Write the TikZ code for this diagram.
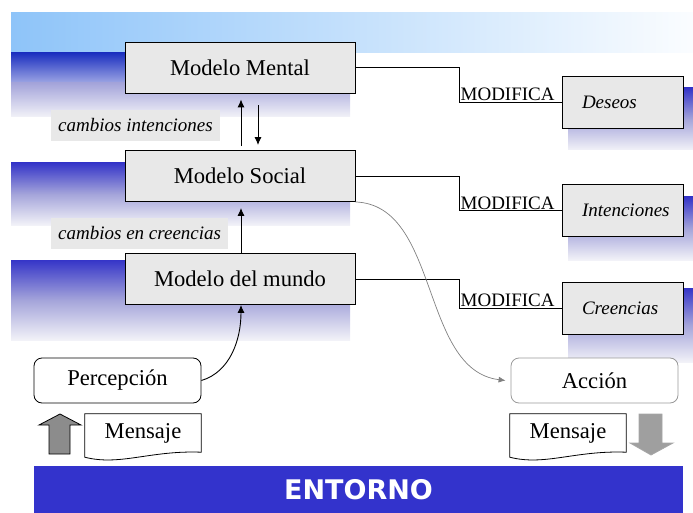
\documentclass[tikz,border=0pt]{standalone}
\usepackage{fontspec}
\setmainfont{Liberation Serif}
\newfontfamily\barfont{DejaVu Sans}
\usetikzlibrary{arrows.meta,positioning}
\definecolor{boxgray}{HTML}{E8E8E8}
\definecolor{bandblue}{HTML}{3535C8}
\definecolor{bandmid}{HTML}{A4A4DA}
\definecolor{bandpale}{HTML}{F2F2F8}
\definecolor{skyblue}{HTML}{8EC4F9}
\definecolor{deepblue}{HTML}{1C30C0}
\definecolor{barblue}{HTML}{3333CC}
\definecolor{arrowgray}{HTML}{8C8C8C}
\tikzset{
  modelbox/.style = {draw=black, fill=boxgray, line width=0.9pt, minimum width=230pt, minimum height=51pt, inner sep=0pt, font=\fontsize{22.6}{25}\selectfont},
  attrbox/.style = {draw=black, fill=boxgray, line width=0.9pt, minimum height=52pt, inner xsep=20pt, inner ysep=0pt, font=\fontsize{19}{22}\selectfont\itshape},
  notebox/.style = {fill=boxgray, anchor=west, minimum height=31pt, inner xsep=7pt, inner ysep=0pt, font=\fontsize{19}{22}\selectfont\itshape},
  modlabel/.style = {anchor=south west, inner sep=1pt, font=\fontsize{19}{22}\selectfont},
  iobox/.style = {rounded corners=8pt, line width=0.8pt, fill=white, minimum width=167pt, minimum height=45pt, inner sep=0pt, font=\fontsize{22.6}{25}\selectfont},
  msgbox/.style = {minimum width=116pt, minimum height=38pt, inner sep=0pt, font=\fontsize{22.6}{25}\selectfont},
  band/.style = {top color=bandblue, bottom color=bandpale, middle color=bandmid},
  link/.style = {line width=0.9pt},
  flow/.style = {line width=0.9pt, -{Latex[length=8pt,width=7pt]}},
}
\newcommand{\attrtext}[1]{\makebox[81pt][l]{#1}}

\begin{document}
\begin{tikzpicture}[x=1pt, y=-1pt]
  \useasboundingbox (0,0) rectangle (693,513);
  % background bands
  \shade[left color=skyblue, right color=white!96!skyblue] (11,13) rectangle (693,53);
  \shade[top color=deepblue, bottom color=deepblue!45!white] (11,53) rectangle (350,82);
  \shade[top color=bandmid, bottom color=bandpale] (11,83) rectangle (350,117);
  \shade[band] (11,163) rectangle (350,225);
  \shade[band] (11,260) rectangle (350,340);
  \shade[band] (568,88) rectangle (693,150);
  \shade[band] (568,197) rectangle (693,260);
  \shade[band] (568,288) rectangle (693,362);

  % models
  \node [modelbox] (mental) at (240,67.5) {Modelo Mental};
  \node [modelbox] (social) at (240,176) {Modelo Social};
  \node [modelbox] (mundo) at (240,279) {Modelo del mundo};
  \node [notebox] (chgInt) at (51,125.5) {cambios intenciones};
  \node [notebox] (chgCre) at (51,233.5) {cambios en creencias};

  % attributes
  \node [attrbox] (deseos) at (622.5,102) {\attrtext{Deseos}};
  \node [attrbox] (intenc) at (622.5,210.5) {\attrtext{Intenciones}};
  \node [attrbox] (creenc) at (622.5,308) {\attrtext{Creencias}};

  \draw [link] (mental.east) -- ++(104,0) coordinate (kneeA) |- (deseos.west);
  \draw [link] (social.east) -- ++(104,0) coordinate (kneeB) |- (intenc.west);
  \draw [link] (mundo.east) -- ++(104,0) coordinate (kneeC) |- (creenc.west);
  \node [modlabel] (modA) at (kneeA |- deseos.west) {MODIFICA};
  \node [modlabel] (modB) at (kneeB |- intenc.west) {MODIFICA};
  \node [modlabel] (modC) at (kneeC |- creenc.west) {MODIFICA};

  \draw [flow, shorten >=6pt, shorten <=4pt] ([xshift=1pt]social.north) -- ([xshift=1pt]mental.south);
  \draw [flow, shorten >=5pt, shorten <=12pt] ([xshift=18pt]mental.south) -- ([xshift=18pt]social.north);
  \draw [flow, shorten >=6pt] ([xshift=1pt]mundo.north) -- ([xshift=1pt]social.south);

  % perception and action
  \node [iobox, draw=black] (percep) at (117.5,380.5) {Percepción};
  \node [iobox, draw=gray!80] (accion) at (594.5,380.5) {Acción};
  \draw [flow] (percep.east) .. controls (230,372) and (241,340) .. ([xshift=1pt]mundo.south);
  \draw [line width=0.7pt, draw=gray, -{Latex[length=7pt,width=6pt]}]
    (social.south east) .. controls (440,205) and (420,370) .. ([xshift=-5pt]accion.west);

  % messages
  \node [msgbox] (msgIn) at (143,433) {Mensaje};
  \node [msgbox] (msgOut) at (568,433) {Mensaje};
  \draw [line width=0.8pt] (msgIn.north west) -- (msgIn.north east) -- (msgIn.south east)
    .. controls +(-51,-2) and +(35,9) .. ([yshift=-5pt]msgIn.south west) -- cycle;
  \draw [line width=0.8pt] (msgOut.north west) -- (msgOut.north east) -- (msgOut.south east)
    .. controls +(-51,-2) and +(35,9) .. ([yshift=-5pt]msgOut.south west) -- cycle;
  \draw [line width=0.8pt, fill=arrowgray] (49,454) -- (49,425) -- (39,425) -- (60,414)
    -- (81,425) -- (70,425) -- (70,454) -- cycle;
  \draw [line width=0.8pt, draw=gray!70, fill=gray!75] (639,414) -- (662,414) -- (662,443)
    -- (673,443) -- (651,455) -- (630,443) -- (639,443) -- cycle;

  % environment
  \node [fill=barblue, minimum width=649pt, minimum height=47pt, inner sep=0pt, text=white,
    font=\barfont\bfseries\fontsize{27}{30}\selectfont] (entorno) at (358.5,489.5) {ENTORNO};
\end{tikzpicture}
\end{document}
